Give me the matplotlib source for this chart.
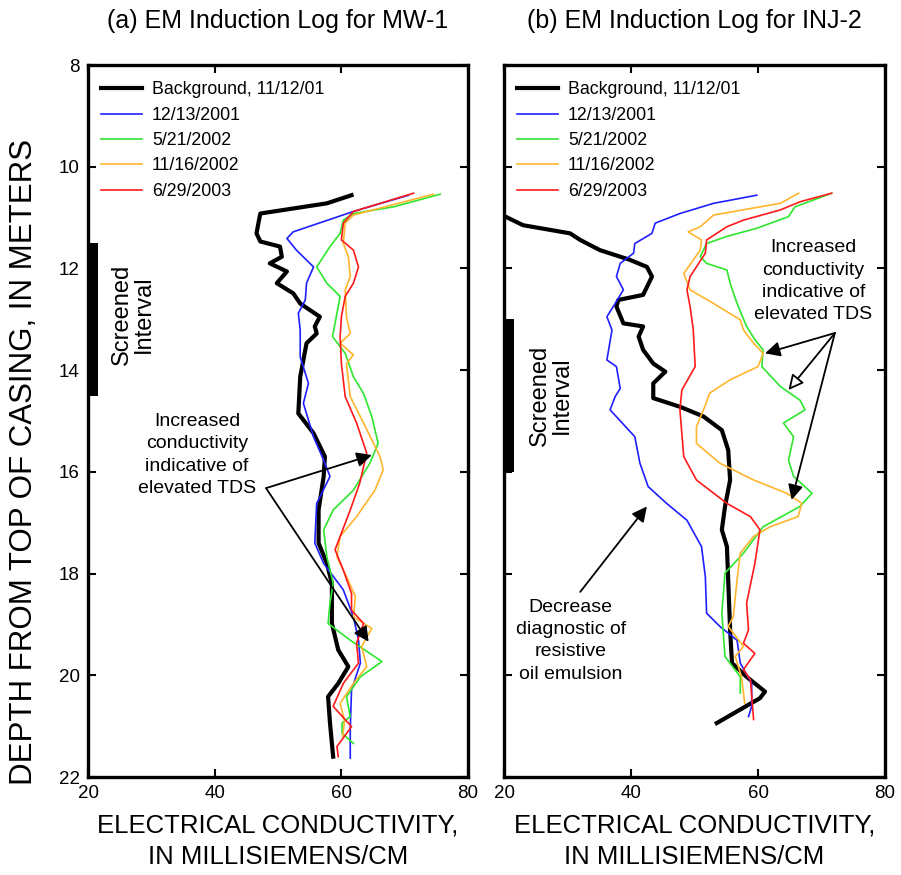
import matplotlib.pyplot as plt

# ---- MW-1 (panel a) ----
mw_bg_d = [10.56, 10.72, 10.92, 11.11, 11.31, 11.47, 11.57, 11.77, 11.90, 12.06, 12.29, 12.49, 12.69,
           12.95, 13.14, 13.28, 13.47, 14.13, 14.85, 15.24, 15.70, 16.09, 16.75, 17.40, 17.80, 18.19,
           18.98, 19.50, 19.83, 20.16, 20.42, 20.94, 21.60]
mw_bg_x = [61.6, 57.7, 47.2, 46.9, 46.6, 47.2, 50.3, 50.6, 48.7, 51.4, 49.8, 52.4, 53.5,
           56.6, 55.8, 56.1, 54.5, 53.5, 53.2, 55.6, 57.4, 57.2, 56.4, 56.4, 57.7, 58.5,
           58.5, 59.5, 61.1, 59.5, 57.9, 58.2, 58.7]

mw_2001_d = [10.56, 10.88, 11.28, 11.41, 11.64, 11.97, 12.29, 12.62, 12.88, 13.21, 13.74, 14.26, 14.65,
             15.31, 15.77, 16.09, 16.62, 17.40, 17.80, 18.32, 18.85, 19.31, 19.76, 20.29, 21.07, 21.63]
mw_2001_x = [70.6, 61.9, 52.4, 51.4, 52.9, 55.6, 54.5, 54.3, 53.2, 53.5, 53.5, 54.8, 54.0,
             55.6, 57.2, 58.2, 56.1, 55.8, 57.2, 60.3, 61.9, 62.7, 63.0, 61.6, 61.4, 61.4]

mw_0502_d = [10.54, 10.79, 10.92, 11.05, 11.31, 11.57, 11.97, 12.29, 12.55, 12.88, 13.34, 13.67, 14.13,
             14.46, 14.91, 15.44, 15.83, 16.36, 16.75, 17.14, 17.67, 18.19, 18.58, 18.98, 19.31, 19.73,
             20.03, 20.42, 20.81, 20.94, 21.14, 21.34]
mw_0502_x = [75.6, 68.2, 61.9, 60.3, 59.8, 58.2, 56.1, 57.7, 59.8, 59.3, 58.6, 60.6, 61.9,
             63.5, 64.8, 65.8, 64.5, 61.9, 58.7, 57.2, 57.7, 58.7, 58.2, 57.9, 61.4, 66.4,
             63.0, 60.8, 61.4, 60.1, 60.1, 61.9]

mw_1102_d = [10.54, 10.95, 11.11, 11.51, 11.77, 12.16, 12.42, 12.95, 13.28, 13.47, 13.70, 13.87, 14.52,
             15.04, 15.70, 15.96, 16.36, 16.88, 17.27, 17.67, 18.06, 18.45, 18.85, 19.08, 19.43, 19.83,
             20.16, 20.55, 20.90, 21.20]
mw_1102_x = [74.5, 61.9, 60.6, 60.3, 61.1, 61.4, 60.6, 60.8, 61.4, 59.8, 61.9, 60.8, 61.4,
             63.5, 66.1, 66.6, 65.3, 62.4, 59.8, 59.3, 60.8, 62.2, 61.9, 64.8, 63.2, 64.0,
             61.9, 59.8, 60.5, 60.2]

mw_2003_d = [10.52, 10.88, 11.11, 11.44, 11.64, 11.97, 12.29, 12.55, 12.95, 13.34, 13.87, 14.52, 15.04,
             15.63, 16.22, 16.75, 17.53, 17.93, 18.39, 18.72, 18.98, 19.37, 19.76, 20.16, 20.61, 21.01,
             21.40, 21.60]
mw_2003_x = [71.4, 61.9, 60.3, 60.0, 61.9, 62.7, 61.9, 60.6, 60.0, 59.8, 60.0, 60.6, 62.4,
             64.0, 62.9, 61.4, 59.0, 60.3, 61.6, 61.6, 63.5, 62.4, 62.7, 60.3, 58.7, 61.6,
             59.3, 59.5]

# ---- INJ-2 (panel b) ----
inj_bg_d = [10.98, 11.15, 11.31, 11.44, 11.64, 11.83, 11.97, 12.16, 12.52, 12.62, 12.75, 13.08, 13.14,
            13.34, 13.60, 13.87, 14.03, 14.26, 14.55, 14.72, 14.91, 15.18, 15.57, 16.16, 16.68, 17.14,
            17.47, 18.12, 19.11, 19.76, 20.03, 20.32, 20.45, 20.94]
inj_bg_x = [20.2, 23.0, 30.4, 32.0, 35.1, 39.8, 42.5, 43.3, 41.9, 38.0, 37.7, 38.8, 41.9,
            41.2, 41.9, 43.5, 45.4, 43.5, 43.5, 47.7, 51.4, 54.3, 55.3, 55.6, 54.8, 54.3,
            55.1, 55.3, 55.6, 55.9, 58.2, 61.1, 60.3, 53.5]

inj_2001_d = [10.56, 10.72, 10.92, 11.11, 11.31, 11.51, 11.70, 11.90, 12.16, 12.42, 12.69, 12.95, 13.21,
              13.80, 13.93, 14.36, 14.52, 14.78, 15.31, 15.83, 16.29, 16.62, 16.95, 17.47, 18.06, 18.78,
              19.04, 19.31, 19.76, 20.16, 20.61, 20.81]
inj_2001_x = [59.8, 53.0, 47.7, 43.8, 43.3, 40.6, 40.4, 38.3, 37.7, 38.8, 37.5, 36.2, 37.0,
              36.2, 37.7, 38.3, 37.5, 36.7, 40.6, 41.4, 42.7, 45.6, 48.8, 51.1, 51.7, 51.9,
              54.0, 56.7, 57.2, 59.0, 59.0, 58.5]

inj_0502_d = [10.52, 10.79, 10.98, 11.21, 11.37, 11.51, 11.77, 11.90, 12.03, 12.29, 12.69, 13.14, 13.40,
              13.60, 13.93, 14.32, 14.59, 14.78, 15.04, 15.31, 15.77, 16.09, 16.42, 16.68, 17.08, 17.60,
              17.99, 18.78, 19.63, 20.03, 20.35]
inj_0502_x = [71.6, 65.8, 64.8, 59.8, 55.1, 51.9, 50.9, 51.9, 55.1, 55.6, 56.7, 58.2, 59.5,
              60.8, 60.6, 63.5, 66.6, 67.4, 64.0, 65.6, 64.8, 65.6, 68.5, 66.6, 60.8, 57.7,
              54.8, 54.3, 54.8, 57.2, 57.2]

inj_1102_d = [10.52, 10.72, 10.95, 11.18, 11.28, 11.44, 11.64, 12.10, 12.42, 12.69, 13.01, 13.21, 13.47,
              13.67, 13.93, 14.19, 14.45, 14.72, 15.11, 15.44, 15.83, 16.16, 16.42, 16.62, 16.88, 17.08,
              17.27, 17.60, 18.12, 18.85, 19.04, 19.43, 19.63, 20.03, 20.55]
inj_1102_x = [66.4, 63.5, 53.0, 50.9, 49.0, 51.1, 50.9, 48.3, 49.3, 53.0, 57.2, 57.7, 59.3,
              60.8, 60.0, 55.6, 52.4, 51.6, 50.3, 50.3, 54.0, 59.3, 64.5, 66.9, 66.3, 61.9,
              59.3, 57.2, 56.7, 56.1, 55.3, 57.7, 56.4, 57.4, 57.9]

inj_2003_d = [10.52, 10.69, 10.85, 11.05, 11.18, 11.44, 11.70, 12.16, 12.42, 12.75, 13.21, 13.93, 14.39,
              14.78, 15.70, 16.16, 16.62, 16.88, 17.14, 17.80, 18.58, 19.11, 19.37, 19.57, 19.89, 20.09,
              20.87]
inj_2003_x = [71.6, 66.6, 63.5, 57.7, 55.1, 51.9, 51.7, 49.3, 48.8, 49.3, 49.8, 50.1, 48.0,
              47.7, 48.3, 50.3, 55.1, 58.8, 60.3, 59.5, 58.2, 58.5, 57.7, 59.5, 57.7, 58.8,
              59.3]

series_labels = ['Background, 11/12/01', '12/13/2001', '5/21/2002', '11/16/2002', '6/29/2003']
series_colors = ['black', '#1f1fff', '#2ee62e', '#ffb52e', '#ff1a1a']
series_widths = [3.0, 1.2, 1.2, 1.2, 1.2]

mw_curves = [(mw_bg_x, mw_bg_d), (mw_2001_x, mw_2001_d), (mw_0502_x, mw_0502_d),
             (mw_1102_x, mw_1102_d), (mw_2003_x, mw_2003_d)]
inj_curves = [(inj_bg_x, inj_bg_d), (inj_2001_x, inj_2001_d), (inj_0502_x, inj_0502_d),
              (inj_1102_x, inj_1102_d), (inj_2003_x, inj_2003_d)]

mw_screen = (11.5, 14.5)
inj_screen = (13.0, 16.0)

font = ['Liberation Sans', 'DejaVu Sans']
plt.rcParams['font.family'] = font

fig = plt.figure(figsize=(9.01, 8.75), dpi=100)
ax1 = fig.add_axes([0.0977, 0.112, 0.4218, 0.8137])
ax2 = fig.add_axes([0.5594, 0.112, 0.4229, 0.8137])


def setup(ax, curves, title, screen, show_ylabels):
    for (x, d), lab, col, lw in zip(curves, series_labels, series_colors, series_widths):
        ax.plot(x, d, color=col, lw=lw, label=lab, solid_joinstyle='round')
    ax.fill_betweenx(list(screen), 20, 21.5, color='black', lw=0)
    ax.set_xlim(20, 80)
    ax.set_ylim(22, 8)
    ax.set_xticks([20, 40, 60, 80])
    ax.set_yticks(range(8, 23, 2))
    ax.tick_params(direction='in', top=True, right=True, length=6, width=1.5, labelsize=13.5, pad=6)
    if not show_ylabels:
        ax.set_yticklabels([])
    for sp in ax.spines.values():
        sp.set_linewidth(2.4)
    ax.set_title(title, fontsize=18, pad=27)
    ax.set_xlabel('ELECTRICAL CONDUCTIVITY,\nIN MILLISIEMENS/CM', fontsize=18.5,
                  labelpad=8, linespacing=1.4)
    ax.legend(loc='upper left', bbox_to_anchor=(0.035, 0.977), frameon=False,
              prop={'size': 12.8}, handlelength=2.3,
              handletextpad=0.55, labelspacing=0.47, borderpad=0, borderaxespad=0)


setup(ax1, mw_curves, '(a) EM Induction Log for MW-1', mw_screen, True)
setup(ax2, inj_curves, '(b) EM Induction Log for INJ-2', inj_screen, False)

ax1.set_ylabel('DEPTH FROM TOP OF CASING, IN METERS', fontsize=22.5)
ax1.yaxis.set_label_coords(-0.128, 0.442)

# Screened interval labels
ax1.text(27.1, 12.9, 'Screened\nInterval', rotation=90, ha='center', va='center',
         fontsize=17, linespacing=1.0, multialignment='center')
ax2.text(27.4, 14.5, 'Screened\nInterval', rotation=90, ha='center', va='center',
         fontsize=17, linespacing=1.0, multialignment='center')

note = 'Increased\nconductivity\nindicative of\nelevated TDS'
ax1.text(37.2, 15.67, note, ha='center', va='center', fontsize=14, linespacing=1.4)
ax2.text(68.7, 12.25, note, ha='center', va='center', fontsize=14, linespacing=1.4)
ax2.text(30.5, 19.32, 'Decrease\ndiagnostic of\nresistive\noil emulsion', ha='center', va='center',
         fontsize=14, linespacing=1.4)

filled = dict(arrowstyle='-|>,head_length=0.9,head_width=0.45', fc='black', ec='black', lw=1.3,
              shrinkA=0, shrinkB=0)
hollow = dict(arrowstyle='-|>,head_length=0.9,head_width=0.45', fc='white', ec='black', lw=1.3,
              shrinkA=0, shrinkB=0)

for tgt in [(64.8, 15.67), (64.3, 19.34)]:
    ax1.annotate('', xy=tgt, xytext=(48.1, 16.32), arrowprops=filled)

ax2.annotate('', xy=(61.1, 13.67), xytext=(72.1, 13.27), arrowprops=filled)
ax2.annotate('', xy=(64.8, 14.39), xytext=(72.1, 13.27), arrowprops=hollow)
ax2.annotate('', xy=(65.3, 16.55), xytext=(72.1, 13.27), arrowprops=filled)
ax2.annotate('', xy=(42.5, 16.68), xytext=(32.0, 18.36), arrowprops=filled)

fig.savefig('out.png', dpi=100)
